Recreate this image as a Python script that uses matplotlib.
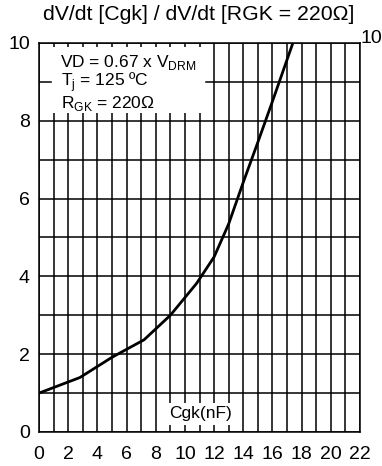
import matplotlib
matplotlib.use("Agg")
import matplotlib.pyplot as plt
from matplotlib.patches import Rectangle

plt.rcParams['font.family'] = ['Liberation Sans', 'DejaVu Sans']

cgk = [0, 2.8, 5.0, 7.2, 9.0, 10.8, 12.0, 13.0, 14.0, 15.0, 16.0, 17.4]
ratio = [1.0, 1.4, 1.92, 2.37, 3.0, 3.82, 4.5, 5.35, 6.42, 7.45, 8.5, 10.0]
xticks = list(range(0, 23, 2))
yticks = list(range(0, 11, 2))

fig = plt.figure(figsize=(3.82, 4.66), dpi=100)
ax = fig.add_axes([39/382, (466-432)/466, (360-39)/382, (432-43)/466])
ax.set_xlim(0, 22)
ax.set_ylim(0, 10)

for v in range(0, 23):
    ax.axvline(v, color='black', lw=1.1, zorder=1)
# white panel behind the annotation block (hides vertical grid lines)
ax.add_patch(Rectangle((0.5, 8.2), 11.0, 1.7, facecolor='white', edgecolor='none', zorder=1.5))
for h in range(0, 11):
    if h == 9:
        ax.axhline(h, xmin=0, xmax=0.82/22, color='black', lw=1.1, zorder=2)
        ax.axhline(h, xmin=11.45/22, xmax=1, color='black', lw=1.1, zorder=2)
    else:
        ax.axhline(h, color='black', lw=1.1, zorder=2)

ax.plot(cgk, ratio, color='black', lw=2.0, zorder=3, solid_joinstyle='round')

ax.set_xticks(xticks)
ax.set_yticks(yticks)
ax.tick_params(length=0, labelsize=14)
ax.tick_params(axis='x', pad=10)
ax.tick_params(axis='y', pad=6.5)
for s in ax.spines.values():
    s.set_linewidth(1.1)

ax.text(22.0, 10.12, "10", fontsize=14, ha='left', va='center')

ax.text(1.42, 9.38, r"VD = 0.67 x V$_{\mathregular{DRM}}$", fontsize=12.5, ha='left', va='baseline', zorder=4)
ax.text(1.5, 8.9, r"T$_{\mathregular{j}}$ = 125 ºC", fontsize=12.5, ha='left', va='baseline', zorder=4)
ax.text(1.48, 8.33, r"R$_{\mathregular{GK}}$ = 220Ω", fontsize=12.5, ha='left', va='baseline', zorder=4)
ax.text(11.07, 0.35, "Cgk(nF)", fontsize=12.5, ha='center', va='baseline',
        bbox=dict(facecolor='white', edgecolor='none', pad=2.5), zorder=4)

fig.text(199/382, 1 - 15/466, "dV/dt [Cgk] / dV/dt [RGK = 220Ω]", fontsize=15.3, ha='center', va='center')

fig.savefig("out.png", dpi=100)
